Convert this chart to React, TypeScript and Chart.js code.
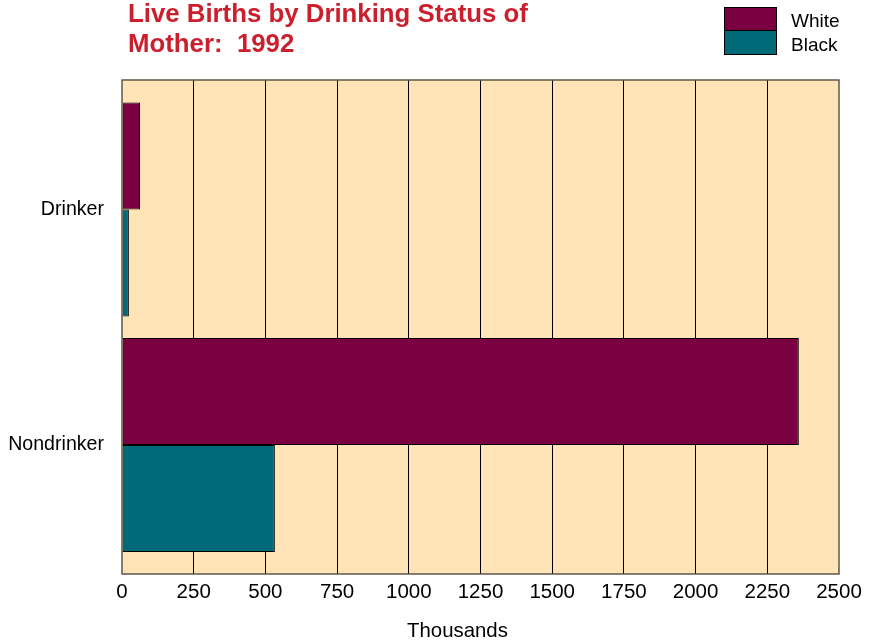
import React, { useEffect, useRef } from "react";
import { Chart, registerables } from "chart.js";

Chart.register(...registerables);

const categories = ["Drinker", "Nondrinker"];
const seriesNames = ["White", "Black"];
const whiteValues = [63, 2360];
const blackValues = [24, 533];
const xTicks = [0, 250, 500, 750, 1000, 1250, 1500, 1750, 2000, 2250, 2500];
const xTitle = "Thousands";
const colors = ["#7a0041", "#006a78"];

const FONT = "'Liberation Sans', Arial, sans-serif";

const bgPlugin = {
  id: "bgPlugin",
  beforeDraw(chart: any) {
    const { ctx, chartArea } = chart;
    ctx.save();
    ctx.fillStyle = "#ffe4b7";
    ctx.fillRect(chartArea.left, chartArea.top, chartArea.right - chartArea.left, chartArea.bottom - chartArea.top);
    ctx.restore();
  },
  afterDraw(chart: any) {
    const { ctx, chartArea } = chart;
    ctx.save();
    ctx.strokeStyle = "#5f574a";
    ctx.lineWidth = 1.5;
    ctx.strokeRect(chartArea.left, chartArea.top, chartArea.right - chartArea.left, chartArea.bottom - chartArea.top);
    ctx.restore();
  },
};

export default function App() {
  const ref = useRef<HTMLCanvasElement | null>(null);
  useEffect(() => {
    if (!ref.current) return;
    const chart = new Chart(ref.current, {
      type: "bar",
      data: {
        datasets: [
          {
            label: seriesNames[0],
            data: whiteValues.map((v, i) => ({ x: v, y: i })),
            backgroundColor: colors[0],
            borderColor: "#000",
            borderWidth: 1,
          },
          {
            label: seriesNames[1],
            data: blackValues.map((v, i) => ({ x: v, y: i })),
            backgroundColor: colors[1],
            borderColor: "#000",
            borderWidth: 1,
          },
        ],
      },
      plugins: [bgPlugin],
      options: {
        indexAxis: "y",
        animation: false,
        responsive: false,
        layout: { padding: { top: 80, right: 34, left: 0, bottom: 0 } },
        plugins: { legend: { display: false }, tooltip: { enabled: false }, title: { display: false } },
        datasets: { bar: { categoryPercentage: 0.909, barPercentage: 1.0 } },
        scales: {
          x: {
            type: "linear",
            min: 0,
            max: 2500,
            afterBuildTicks: (scale: any) => {
              scale.ticks = xTicks.map((v) => ({ value: v }));
            },
            afterFit: (scale: any) => {
              scale.height = 68;
            },
            border: { display: false },
            grid: {
              color: (c: any) => (c.index === 0 || c.index === xTicks.length - 1 ? "rgba(0,0,0,0)" : "#000"),
              lineWidth: 1,
              drawTicks: false,
            },
            ticks: {
              color: "#000",
              font: { family: FONT, size: 20.5 },
              padding: 6,
              maxRotation: 0,
              callback: (v: any) => String(v),
            },
            title: { display: false },
          },
          y: {
            type: "linear",
            reverse: true,
            offset: false,
            bounds: "data",
            min: -0.55,
            max: 1.548,
            afterBuildTicks: (scale: any) => {
              scale.ticks = categories.map((_, i) => ({ value: i }));
            },
            afterFit: (scale: any) => {
              scale.width = 122;
            },
            border: { display: false },
            grid: { display: false, drawTicks: false, offset: false },
            ticks: {
              color: "#000",
              font: { family: FONT, size: 19.6 },
              padding: 18,
              callback: (v: any) => categories[v] ?? "",
            },
          },
        },
      },
    } as any);
    return () => chart.destroy();
  }, []);

  return (
    <div style={{ position: "fixed", left: 0, top: 0, width: 873, height: 642, background: "#fff", fontFamily: FONT }}>
      <canvas ref={ref} width={873} height={642} style={{ position: "absolute", left: 0, top: 0, width: 873, height: 642 }} />
      <div style={{ position: "absolute", left: 128, top: -2, color: "#cc1f2e", fontWeight: "bold", fontSize: 25.8, lineHeight: "30px", whiteSpace: "nowrap" }}>
        Live Births by Drinking Status of
        <br />
        Mother:&nbsp; 1992
      </div>
      <div style={{ position: "absolute", left: 407, top: 618, fontSize: 20.4, lineHeight: "24px", color: "#000", whiteSpace: "nowrap" }}>
        {xTitle}
      </div>
      {seriesNames.map((name, i) => (
        <div key={name} style={{ position: "absolute", left: 724, top: 7 + i * 24, height: 24, display: "flex", alignItems: "center" }}>
          <div style={{ width: 51, height: 23, background: colors[i], border: "1px solid #000", boxSizing: "content-box", marginTop: i === 0 ? 0 : -1 }} />
          <span style={{ marginLeft: 14, fontSize: 19, color: "#000", position: "relative", top: 2 }}>{name}</span>
        </div>
      ))}
    </div>
  );
}
